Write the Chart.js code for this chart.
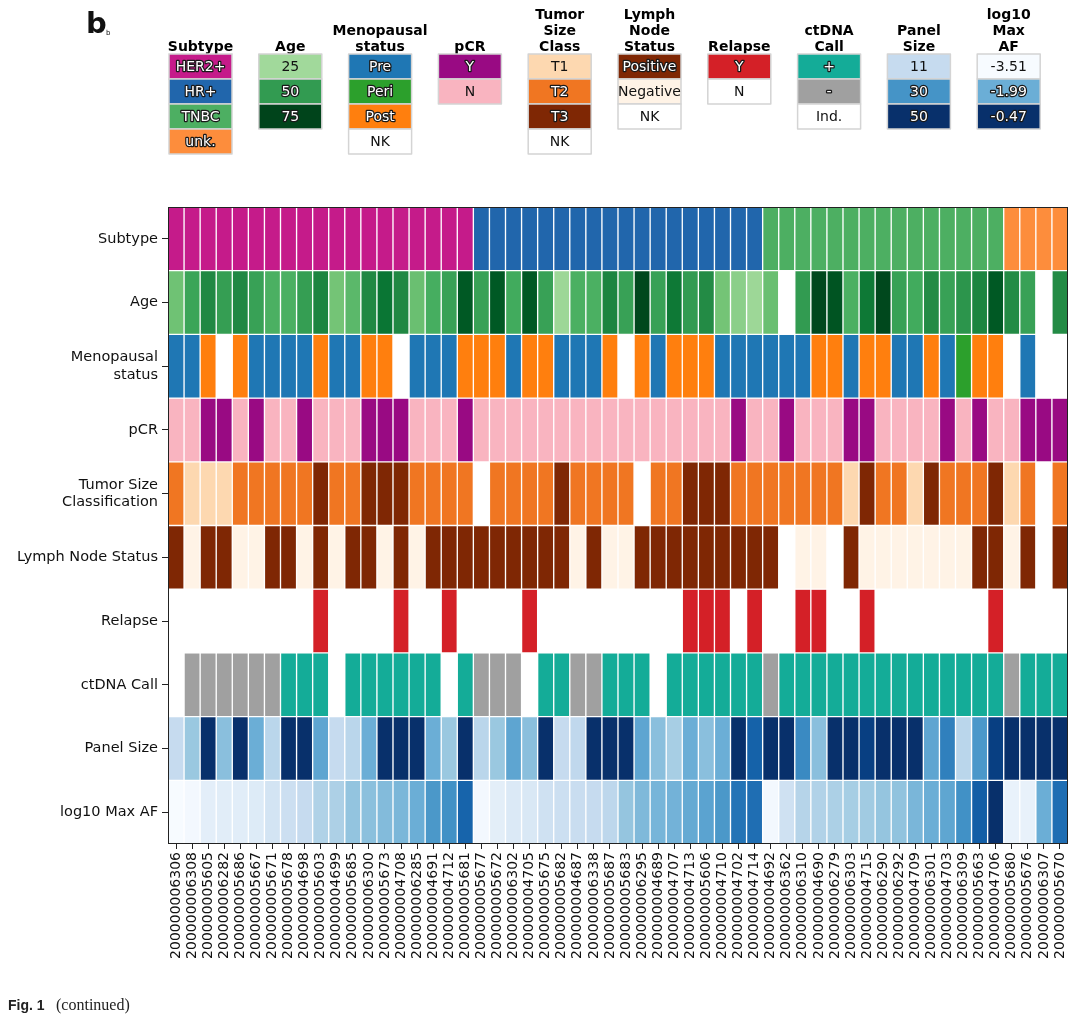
<!DOCTYPE html>
<html lang="en">
<head>
<meta charset="UTF-8">
<title>Fig. 1b heatmap</title>
<script src="https://cdn.jsdelivr.net/npm/chart.js"></script>
<style>
  body { margin: 0; background: #fff; }
  #wrap { width: 1080px; height: 1019px; }
</style>
</head>
<body>
<div id="wrap"><canvas id="heat" width="1080" height="1019"></canvas></div>
<script>
// sample ids (x axis)
const sampleIds = [
  '200000006306','200000006308','200000005605','200000006282','200000005686','200000005667','200000005671',
  '200000005678','200000004698','200000005603','200000004699','200000005685','200000006300','200000005673',
  '200000004708','200000006285','200000004691','200000004712','200000005681','200000005677','200000005672',
  '200000006302','200000004705','200000005675','200000005682','200000004687','200000006338','200000005687',
  '200000005683','200000006295','200000004689','200000004707','200000004713','200000005606','200000004710',
  '200000004702','200000004714','200000004692','200000006362','200000006310','200000004690','200000006279',
  '200000006303','200000004715','200000006290','200000006292','200000004709','200000006301','200000004703',
  '200000006309','200000005663','200000004706','200000005680','200000005676','200000006307','200000005670'
];

const rowNames = ['Subtype', 'Age', ['Menopausal', 'status'], 'pCR', ['Tumor Size', 'Classification'],
  'Lymph Node Status', 'Relapse', 'ctDNA Call', 'Panel Size', 'log10 Max AF'];

const subtype = [].concat(Array(19).fill('HER2+'), Array(18).fill('HR+'), Array(15).fill('TNBC'), Array(4).fill('unk.'));

const age = [36,47,56,49,56,48,43,43,49,57,35,40,56,62,56,37,44,48,70,
  48,70,45,70,48,26,43,43,57,48,74,48,61,50,55,35,30,26,
  37,null,50,74,71,43,61,74,48,45,55,48,52,57,70,
  55,48,null,55];

const menopausal = ['Pre','Pre','Post','NK','Post','Pre','Pre','Pre','Pre','Post','Pre','Pre','Post','Post','NK','Pre','Pre','Pre','Post',
  'Post','Post','Pre','Post','Post','Pre','Pre','Pre','Post','NK','Post','Pre','Post','Post','Post','Pre','Pre','Pre',
  'Pre','Pre','Pre','Post','Post','Pre','Post','Post','Pre','Pre','Post','Pre','Peri','Post','Post','NK','Pre','NK','NK'];

const pcr = ['N','N','Y','Y','N','Y','N','N','Y','N','N','N','Y','Y','Y','N','N','N','Y',
  'N','N','N','N','N','N','N','N','N','N','N','N','N','N','N','N','Y','N',
  'N','Y','N','N','N','Y','Y','N','N','N','N','Y','N','Y','N','N','Y','Y','Y'];

const tumorSize = ['T2','T1','T1','T1','T2','T2','T2','T2','T2','T3','T2','T2','T3','T3','T3','T2','T2','T2','T2',
  'NK','T2','T2','T2','T2','T3','T2','T2','T2','T2','NK','T2','T2','T3','T3','T3','T2','T2',
  'T2','T2','T2','T2','T2','T1','T3','T2','T2','T1','T3','T2','T2','T2','T3','T1','T2','NK','T2'];

const lymphNode = ['Positive','Negative','Positive','Positive','Negative','Negative','Positive','Positive','Negative','Positive',
  'Negative','Positive','Positive','Negative','Positive','Negative','Positive','Positive','Positive',
  'Positive','Positive','Positive','Positive','Positive','Positive','Negative','Positive','Negative','Negative',
  'Positive','Positive','Positive','Positive','Positive','Positive','Positive','Positive',
  'Positive','NK','Negative','Negative','NK','Positive','Negative','Negative','Negative','Negative','Negative',
  'Negative','Negative','Positive','Positive','Negative','Positive','NK','Positive'];

const relapse = ['N','N','N','N','N','N','N','N','N','Y','N','N','N','N','Y','N','N','Y','N',
  'N','N','N','Y','N','N','N','N','N','N','N','N','N','Y','Y','Y','N','Y',
  'N','N','Y','Y','N','N','Y','N','N','N','N','N','N','N','Y','N','N','N','N'];

const ctdna = ['Ind.','-','-','-','-','-','-','+','+','+','Ind.','+','+','+','+','+','+','Ind.','+',
  '-','-','-','Ind.','+','+','-','-','+','+','+','Ind.','+','+','+','+','+','+',
  '-','+','+','+','+','+','+','+','+','+','+','+','+','+','+','-','+','+','+'];

const panelSize = [11,18,50,20,50,24,13,50,50,26,11,13,24,50,50,50,24,18,50,
  13,18,26,20,50,11,12,50,50,50,26,20,16,24,20,24,50,40,
  50,50,32,20,50,50,47,50,50,50,26,34,13,29,47,50,50,50,50];

const maxAF = [-3.51,-3.45,-3.21,-3.18,-3.17,-3.12,-2.96,-2.84,-2.75,-2.54,-2.51,-2.29,-2.23,-2.17,-2.11,-1.99,-1.69,-1.60,-1.08,
  -3.45,-3.20,-3.08,-3.05,-2.90,-2.84,-2.80,-2.75,-2.66,-2.30,-2.14,-2.08,-2.05,-1.93,-1.84,-1.69,-1.26,-1.20,
  -3.45,-2.90,-2.60,-2.55,-2.50,-2.45,-2.40,-2.30,-2.27,-2.10,-1.99,-1.88,-1.60,-1.00,-0.47,
  -3.30,-3.28,-1.99,-1.20];

// legend
const legendTitles = [['Subtype'], ['Age'], ['Menopausal', 'status'], ['pCR'], ['Tumor', 'Size', 'Class'],
  ['Lymph', 'Node', 'Status'], ['Relapse'], ['ctDNA', 'Call'], ['Panel', 'Size'], ['log10', 'Max', 'AF']];
const legendEntries = [['HER2+', 'HR+', 'TNBC', 'unk.'], [25, 50, 75], ['Pre', 'Peri', 'Post', 'NK'], ['Y', 'N'],
  ['T1', 'T2', 'T3', 'NK'], ['Positive', 'Negative', 'NK'], ['Y', 'N'], ['+', '-', 'Ind.'], [11, 30, 50],
  ['-3.51', '-1.99', '-0.47']];

// colours
const BLUES = ['#f7fbff','#deebf7','#c6dbef','#9ecae1','#6baed6','#4292c6','#2171b5','#08519c','#08306b'];
const GREENS = ['#f7fcf5','#e5f5e0','#c7e9c0','#a1d99b','#74c476','#41ab5d','#238b45','#006d2c','#00441b'];

function hex(h) {
  return [1, 3, 5].map(i => parseInt(h.substr(i, 2), 16));
}
function cmap(stops, t) {
  t = Math.max(0, Math.min(1, t));
  const p = t * (stops.length - 1);
  const i = Math.min(Math.floor(p), stops.length - 2);
  const f = p - i;
  const a = hex(stops[i]), b = hex(stops[i + 1]);
  return 'rgb(' + a.map((v, k) => Math.round(v + (b[k] - v) * f)).join(',') + ')';
}

const subtypeCol = { 'HER2+': '#c51b8a', 'HR+': '#2166ac', 'TNBC': '#4daf62', 'unk.': '#fd8d3c' };
const menoCol = { Pre: '#1f77b4', Peri: '#2ca02c', Post: '#ff7f0e', NK: '#ffffff' };
const pcrCol = { Y: '#990a83', N: '#f9b4c0' };
const tumorCol = { T1: '#fdd8b0', T2: '#f07622', T3: '#7f2704', NK: '#ffffff' };
const lymphCol = { Positive: '#7f2704', Negative: '#fff3e6', NK: '#ffffff' };
const relapseCol = { Y: '#d42027', N: '#ffffff' };
const ctdnaCol = { '+': '#14ac98', '-': '#a0a0a0', 'Ind.': '#ffffff' };

const rowColor = [
  v => subtypeCol[v],
  v => v == null ? '#ffffff' : cmap(GREENS, (v + 5) / 80),
  v => menoCol[v],
  v => pcrCol[v],
  v => tumorCol[v],
  v => lymphCol[v],
  v => relapseCol[v],
  v => ctdnaCol[v],
  v => cmap(BLUES, (v + 2) / 52),
  v => cmap(BLUES, (parseFloat(v) + 3.51) / 3.04)
];
const rowValues = [subtype, age, menopausal, pcr, tumorSize, lymphNode, relapse, ctdna, panelSize, maxAF];

function lum(c) {
  let rgb;
  if (c[0] === '#') rgb = hex(c);
  else rgb = c.match(/\d+/g).map(Number);
  return (0.299 * rgb[0] + 0.587 * rgb[1] + 0.114 * rgb[2]) / 255;
}

// legend + frame + caption
const extras = {
  id: 'extras',
  afterDatasetsDraw(chart) {
    const ctx = chart.ctx, a = chart.chartArea;
    ctx.save();
    ctx.strokeStyle = '#222';
    ctx.lineWidth = 1;
    ctx.strokeRect(a.left + 0.5, a.top + 0.5, a.right - a.left - 1, a.bottom - a.top - 1);
    ctx.restore();
  },
  afterDraw(chart) {
    const ctx = chart.ctx;
    ctx.save();
    // panel letter
    ctx.fillStyle = '#111';
    ctx.font = 'bold 29px "DejaVu Sans"';
    ctx.textBaseline = 'alphabetic';
    ctx.textAlign = 'left';
    ctx.fillText('b', 86, 33);
    ctx.font = '7px "DejaVu Sans"';
    ctx.fillText('b', 106, 35);

    const boxW = 63, boxH = 25, top = 54;
    legendTitles.forEach((title, g) => {
      const x0 = 169 + g * 89.8;
      const cx = x0 + boxW / 2;
      ctx.font = 'bold 14px "DejaVu Sans"';
      ctx.fillStyle = '#000';
      ctx.textAlign = 'center';
      ctx.textBaseline = 'alphabetic';
      title.forEach((line, k) => {
        ctx.fillText(line, cx, 51 - (title.length - 1 - k) * 16);
      });
      legendEntries[g].forEach((ent, k) => {
        const y0 = top + k * boxH;
        const col = rowColor[g](ent);
        ctx.fillStyle = col;
        ctx.fillRect(x0, y0, boxW, boxH);
        ctx.strokeStyle = '#d4d4d4';
        ctx.lineWidth = 1.5;
        ctx.strokeRect(x0, y0, boxW, boxH);
        ctx.font = '14px "DejaVu Sans"';
        ctx.textBaseline = 'middle';
        const txt = String(ent);
        if (lum(col) < 0.72) {
          ctx.lineJoin = 'round';
          ctx.strokeStyle = '#1a1a1a';
          ctx.lineWidth = 2.5;
          ctx.strokeText(txt, cx, y0 + boxH / 2 + 1);
          ctx.fillStyle = '#ffffff';
        } else {
          ctx.fillStyle = '#111';
        }
        ctx.fillText(txt, cx, y0 + boxH / 2 + 1);
      });
    });

    // caption
    ctx.textAlign = 'left';
    ctx.textBaseline = 'alphabetic';
    ctx.fillStyle = '#222';
    ctx.font = 'bold 14px "Liberation Sans"';
    ctx.fillText('Fig. 1', 8, 1010);
    ctx.font = '16px "Liberation Serif"';
    ctx.fillText('(continued)', 56, 1010);
    ctx.restore();
  }
};

Chart.defaults.font.family = '"DejaVu Sans"';
Chart.defaults.color = '#000';

const ctx = document.getElementById('heat').getContext('2d');
const heatChart = new Chart(ctx, {
  type: 'bar',
  data: {
    labels: sampleIds,
    datasets: rowValues.map((vals, ri) => ({
      label: Array.isArray(rowNames[ri]) ? rowNames[ri].join(' ') : rowNames[ri],
      data: vals.map(() => [ri, ri + 1]),
      backgroundColor: vals.map(rowColor[ri]),
      borderColor: '#ffffff',
      borderWidth: 1,
      borderSkipped: false,
      barPercentage: 1,
      categoryPercentage: 1,
      grouped: false
    }))
  },
  options: {
    responsive: false,
    animation: false,
    layout: { padding: { top: 207, right: 12, left: 0, bottom: 0 } },
    plugins: { legend: { display: false }, tooltip: { enabled: false } },
    scales: {
      x: {
        grid: { display: true, drawOnChartArea: false, offset: false, tickLength: 5, color: '#222' },
        border: { display: false },
        ticks: { autoSkip: false, maxRotation: 90, minRotation: 90, padding: 3, font: { size: 14 }, color: '#111' },
        afterFit(scale) { scale.height = 175; }
      },
      y: {
        min: 0,
        max: 10,
        reverse: true,
        grid: { display: true, drawOnChartArea: false, tickLength: 6, color: '#222' },
        border: { display: false },
        afterBuildTicks(scale) {
          scale.ticks = rowNames.map((_, i) => ({ value: i + 0.5 }));
        },
        ticks: {
          padding: 4,
          font: { size: 14.5 },
          color: '#111',
          callback: v => rowNames[Math.floor(v)]
        },
        afterFit(scale) { scale.width = 168; }
      }
    }
  },
  plugins: [extras]
});
</script>
</body>
</html>
